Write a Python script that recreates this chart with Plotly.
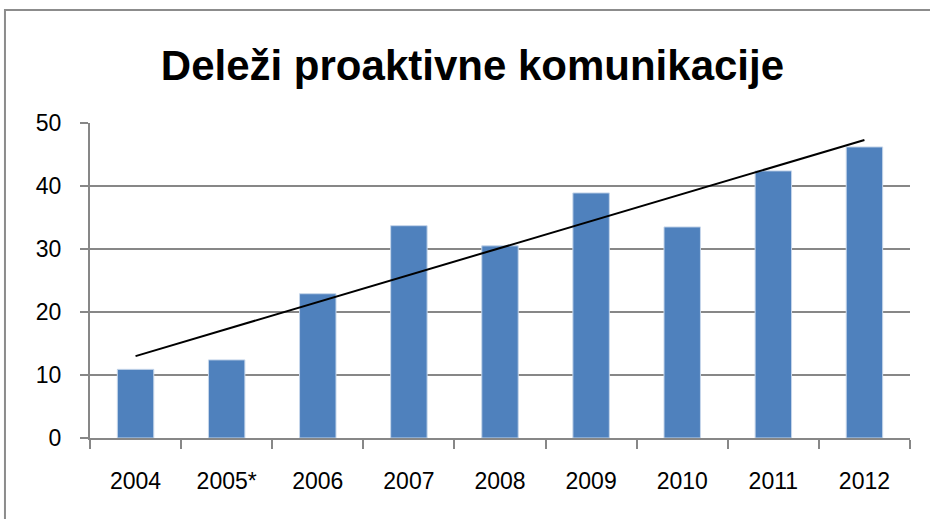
import plotly.graph_objects as go

# values
years = ["2004", "2005*", "2006", "2007", "2008", "2009", "2010", "2011", "2012"]
shares = [10.9, 12.4, 22.9, 33.7, 30.5, 38.9, 33.5, 42.4, 46.2]

# linear trend line end points (first and last category)
trend_x = ["2004", "2012"]
trend_y = [13.0, 47.3]

bar_color = "#4F81BD"
grid_color = "#878787"
font_family = "Liberation Sans, Arial, sans-serif"

fig = go.Figure()

fig.add_trace(go.Bar(
    x=years, y=shares,
    marker=dict(color=bar_color, line=dict(color="#C6D6EA", width=1)),
    width=0.4,
    showlegend=False,
))

fig.add_trace(go.Scatter(
    x=trend_x, y=trend_y,
    mode="lines",
    line=dict(color="black", width=2),
    showlegend=False,
))

fig.update_layout(
    width=930, height=519,
    margin=dict(l=90, r=20, t=123, b=81),
    paper_bgcolor="white",
    plot_bgcolor="white",
    title=dict(
        text="<b>Deleži proaktivne komunikacije</b>",
        x=0.508, xanchor="center",
        y=0.875, yanchor="middle",
        font=dict(family=font_family, size=42, color="black"),
    ),
    font=dict(family=font_family, size=23, color="black"),
    bargap=0.6,
)

fig.update_xaxes(
    type="category", automargin=False,
    showline=True, linecolor=grid_color, linewidth=2,
    ticks="outside", tickson="boundaries", ticklen=9, tickcolor=grid_color, tickwidth=2,
    showgrid=False,
    tickfont=dict(size=23),
    ticklabelstandoff=21,
)
fig.update_yaxes(
    range=[0, 50], dtick=10, automargin=False,
    showline=True, linecolor=grid_color, linewidth=2,
    ticks="outside", ticklen=8, tickcolor=grid_color, tickwidth=2,
    showgrid=True, gridcolor=grid_color, gridwidth=2,
    zeroline=False,
    tickfont=dict(size=23),
    ticklabelstandoff=14,
)

# outer chart frame (partly outside the visible area, as in the screenshot)
fig.add_shape(
    type="rect", xref="paper", yref="paper",
    x0=-0.1037, x1=1.05, y0=-0.3, y1=1.3587,
    line=dict(color="#8C8C8C", width=2),
    layer="below",
)

# drop the default page margin so the figure sits at the window's corner
fig.write_html(
    "out.html",
    config={"displayModeBar": False},
    post_script="document.body.style.margin='0';",
)
